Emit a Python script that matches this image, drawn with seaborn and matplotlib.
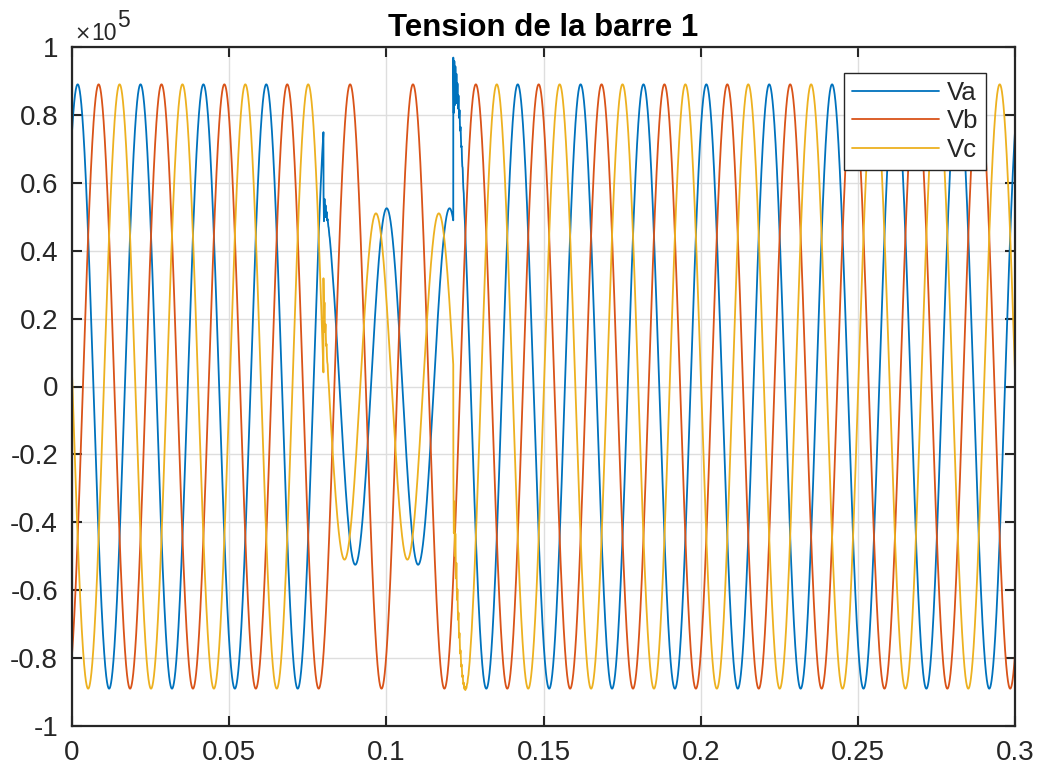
import numpy as np
import pandas as pd
import matplotlib
matplotlib.use("Agg")
import matplotlib.pyplot as plt
import seaborn as sns
from matplotlib.ticker import FuncFormatter, MultipleLocator

# ---------------- data ----------------
phases = ["Va", "Vb", "Vc"]
colors = ["#0072BD", "#D95319", "#EDB120"]
freq_hz = 50.0
t_fault_on = 0.0800          # s, start of the fault
t_fault_off = 0.1213         # s, clearing of the fault
t_end = 0.30
# steady-state peak values (V) and phase angles (deg) before / after the fault
amp_normal = [89000, 89000, 89000]
angle_normal = [57.5, -62.5, 177.5]
# peak values and phase angles while the fault is on
amp_fault = [52500, 89000, 51000]
angle_fault = [88.0, -62.5, 149.5]
# switching transients (initial ringing amplitude, V) at fault on / off
ring_on = [5000, 0, 6000]
ring_off = [9000, 0, 8000]
ring_tau_on = 0.0006
ring_tau_off = 0.0013
ring_freq = 3000.0

title = "Tension de la barre 1"
xticks_step = 0.05
yticks_step = 0.2e5

# ---------------- build the waveforms ----------------
dt = 1e-5
t = np.round(np.arange(0, t_end + dt / 2, dt), 6)
w = 2 * np.pi * freq_hz
rows = []
for i, ph in enumerate(phases):
    normal = amp_normal[i] * np.sin(w * t + np.deg2rad(angle_normal[i]))
    fault = amp_fault[i] * np.sin(w * t + np.deg2rad(angle_fault[i]))
    on = (t >= t_fault_on) & (t < t_fault_off)
    v = np.where(on, fault, normal)
    s1 = t - t_fault_on
    v = v + np.where(s1 >= 0, ring_on[i] * np.exp(-np.clip(s1, 0, None) / ring_tau_on)
                     * np.cos(2 * np.pi * ring_freq * s1), 0)
    s2 = t - t_fault_off
    v = v + np.where(s2 >= 0, ring_off[i] * np.exp(-np.clip(s2, 0, None) / ring_tau_off)
                     * np.cos(2 * np.pi * ring_freq * s2), 0)
    rows.append(pd.DataFrame({"t": t, "v": v, "phase": ph}))
df = pd.concat(rows, ignore_index=True)

# ---------------- plot ----------------
sns.set_style("ticks")
plt.rcParams["font.family"] = ["Liberation Sans", "DejaVu Sans"]

fig = plt.figure(figsize=(10.41, 7.75), dpi=100)
ax = fig.add_axes([72 / 1041, 1 - 726 / 775, (1015 - 72) / 1041, (726 - 47) / 775])

sns.lineplot(data=df, x="t", y="v", hue="phase", hue_order=phases,
             palette=dict(zip(phases, colors)), estimator=None, sort=False,
             linewidth=1.3, ax=ax)

ax.set_xlim(0, t_end)
ax.set_ylim(-1e5, 1e5)
ax.xaxis.set_major_locator(MultipleLocator(xticks_step))
ax.yaxis.set_major_locator(MultipleLocator(yticks_step))
ax.xaxis.set_major_formatter(FuncFormatter(lambda v, p: f"{round(v, 4):g}"))
ax.yaxis.set_major_formatter(FuncFormatter(lambda v, p: f"{round(v / 1e5, 4):g}"))
ax.set_xlabel("")
ax.set_ylabel("")
ax.grid(True, color="#dedede", linewidth=1.0)
ax.set_axisbelow(True)
for sp in ax.spines.values():
    sp.set_color("#262626")
    sp.set_linewidth(1.6)
    sp.set_visible(True)
ax.tick_params(direction="in", length=7, width=1.5, top=True, right=True,
               labelsize=20, colors="#262626", pad=10)

ax.set_title(title, fontsize=22.5, fontweight="bold", pad=8, color="black")

fig.text(74 / 1041, 1 - 40 / 775, "\u00d7", fontsize=14, color="#262626",
         ha="left", va="baseline", family=["DejaVu Sans"])
fig.text(91 / 1041, 1 - 40 / 775, "10", fontsize=16.5, color="#262626",
         ha="left", va="baseline")
fig.text(117 / 1041, 1 - 27 / 775, "5", fontsize=16.5, color="#262626",
         ha="left", va="baseline")

handles, labels = ax.get_legend_handles_labels()
leg = ax.legend(handles, labels, loc="upper right",
                bbox_to_anchor=(986 / 1041, 1 - 73 / 775),
                bbox_transform=fig.transFigure, frameon=True, fancybox=False,
                edgecolor="#262626", framealpha=1, fontsize=18.5,
                handlelength=3.4, handletextpad=0.3, labelspacing=0.18,
                borderpad=0.3, borderaxespad=0)
leg.get_frame().set_linewidth(1.0)
for ln in leg.get_lines():
    ln.set_linewidth(1.3)

fig.savefig("out.png", dpi=100)
